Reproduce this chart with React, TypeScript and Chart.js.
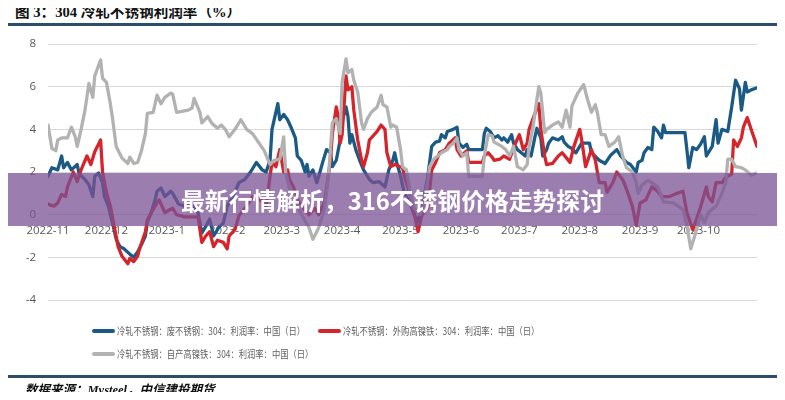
import React, { useEffect, useRef } from "react";
import { Chart, registerables } from "chart.js";

Chart.register(...registerables);

// x values are day offsets from 2022-11-01
const monthStarts = [0, 30, 61, 92, 120, 151, 181, 212, 242, 273, 304, 334];
const monthLabels = [
  "2022-11", "2022-12", "2023-1", "2023-2", "2023-3", "2023-4",
  "2023-5", "2023-6", "2023-7", "2023-8", "2023-9", "2023-10",
];

const seriesNames = [
  "冷轧不锈钢：废不锈钢：304：利润率：中国（日）",
  "冷轧不锈钢：外购高镍铁：304：利润率：中国（日）",
  "冷轧不锈钢：自产高镍铁：304：利润率：中国（日）",
];

const scrapPoints: [number, number][] = [
  [0, 1.8], [2, 2.2], [5, 2.1], [7, 2.75], [8, 2.2], [10, 2.45], [12, 2.1], [15, 2.35], [16, 1.9], [19, 1.65],
  [21, 1.4], [23, 0.85], [24, 1.8], [26, 1.95], [28, 1.5], [29, 0.85], [31, 0.4], [33, -0.35], [35, -1.15], [37, -1.5],
  [39, -1.6], [42, -1.85], [44, -2.0], [46, -1.75], [48, -1.4], [50, -1.0], [51, -0.35], [53, 0.1], [55, 0.7], [56, 1.1],
  [58, 1.25], [60, 0.85], [63, 1.1], [64, 1.0], [67, 0.5], [70, 0.4], [74, 0.5], [77, 0.1], [79, -0.85], [81, -0.55],
  [83, -0.2], [85, -1.0], [87, -0.7], [88, -0.55], [90, -0.4], [92, 0.4], [95, 0.85], [98, 1.5], [101, 1.65], [104, 2.0],
  [107, 2.45], [110, 2.1], [112, 2.0], [114, 2.55], [115, 4.0], [118, 5.2], [119, 4.45], [121, 4.7], [123, 4.45], [125, 4.05],
  [127, 3.6], [128, 2.75], [130, 2.55], [132, 2.0], [133, 2.35], [134, 1.8], [136, 2.1], [138, 1.5], [139, 1.8], [141, 2.45],
  [143, 3.05], [145, 2.9], [146, 2.25], [148, 2.55], [150, 3.5], [151, 4.35], [153, 5.05], [154, 4.6], [155, 3.35], [156, 3.75],
  [158, 3.05], [160, 2.55], [162, 2.1], [164, 1.8], [165, 1.65], [167, 1.5], [170, 1.55], [173, 1.3], [175, 2.1], [177, 2.55],
  [178, 2.9], [179, 2.45], [181, 1.8], [183, 1.0], [186, 0.5], [188, 0.0], [190, -0.3], [192, 0.3], [195, 1.8], [197, 3.2],
  [199, 3.4], [201, 3.45], [202, 3.75], [204, 3.6], [205, 3.9], [208, 4.0], [210, 4.1], [211, 3.35], [213, 3.15], [215, 3.3],
  [216, 3.05], [223, 3.05], [224, 3.8], [225, 4.05], [227, 3.9], [229, 3.6], [231, 3.7], [233, 3.5], [234, 3.6], [236, 3.4],
  [238, 3.75], [239, 3.35], [241, 3.05], [243, 2.9], [245, 2.75], [246, 3.05], [248, 2.75], [250, 3.65], [251, 4.05], [253, 3.6],
  [254, 2.75], [256, 3.05], [257, 3.35], [259, 3.6], [262, 3.5], [264, 3.65], [265, 3.4], [267, 3.2], [269, 3.1], [271, 2.9],
  [274, 3.35], [278, 3.35], [279, 2.9], [283, 2.55], [286, 2.4], [289, 2.8], [292, 3.05], [294, 2.75], [297, 2.45], [299, 2.35],
  [302, 2.0], [303, 2.45], [305, 2.55], [306, 2.9], [308, 3.15], [310, 3.05], [311, 4.1], [313, 3.9], [315, 3.6], [316, 4.2],
  [317, 3.85], [327, 3.85], [328, 3.05], [329, 2.2], [331, 3.15], [333, 3.05], [335, 3.3], [337, 3.65], [338, 2.75], [341, 3.2],
  [343, 4.45], [344, 3.35], [346, 4.0], [349, 3.9], [351, 5.05], [353, 6.3], [355, 5.9], [356, 4.9], [358, 6.2], [359, 5.75],
  [361, 5.85], [364, 5.95],
];

const boughtNpiPoints: [number, number][] = [
  [0, 0.5], [3, 0.4], [5, 0.55], [7, 0.95], [9, 0.85], [10, 1.3], [13, 2.0], [15, 1.55], [17, 2.1], [20, 2.75],
  [22, 2.35], [24, 2.95], [27, 3.5], [28, 2.0], [30, 1.05], [32, 0.4], [34, -0.55], [36, -1.5], [38, -1.95], [41, -2.3],
  [42, -2.05], [44, -2.2], [46, -1.95], [47, -1.6], [50, -0.8], [51, -0.25], [53, 0.1], [55, 0.4], [57, 0.7], [60, 0.1],
  [64, 0.3], [66, 0.0], [70, -0.1], [77, -0.1], [79, -1.3], [81, -1.0], [83, -0.8], [85, -1.5], [87, -1.2], [90, -1.3],
  [92, -1.6], [93, -1.0], [96, -0.7], [98, -0.05], [102, 0.4], [105, 0.85], [109, 0.7], [112, 0.4], [114, 1.8], [115, 2.45],
  [117, 2.25], [119, 3.05], [121, 2.0], [123, 2.1], [124, 1.65], [126, 1.3], [128, 0.7], [131, 0.3], [134, 0.0], [137, 0.3],
  [139, 0.0], [142, 0.6], [145, 2.55], [146, 3.8], [148, 5.05], [149, 4.6], [150, 3.35], [151, 3.75], [153, 6.5], [154, 5.85],
  [156, 6.0], [157, 4.9], [159, 3.5], [161, 2.55], [162, 2.25], [164, 2.9], [165, 3.5], [169, 3.9], [171, 4.2], [173, 4.0],
  [174, 2.9], [176, 2.25], [178, 2.35], [182, 2.2], [183, 1.8], [186, 0.9], [190, -0.8], [192, 0.0], [195, 0.3], [197, 2.1],
  [199, 2.45], [201, 2.9], [204, 3.05], [206, 3.35], [209, 3.6], [210, 3.05], [212, 2.75], [215, 3.0], [216, 2.45], [223, 2.45],
  [224, 2.75], [226, 2.9], [228, 2.7], [229, 2.55], [232, 2.6], [234, 2.75], [237, 2.6], [239, 3.15], [242, 3.75], [244, 3.05],
  [246, 3.35], [247, 4.0], [250, 4.75], [252, 5.2], [253, 4.0], [255, 2.75], [256, 2.35], [259, 2.4], [262, 2.75], [264, 2.9],
  [268, 2.45], [270, 3.2], [273, 4.0], [274, 3.5], [276, 2.25], [279, 3.05], [281, 2.55], [283, 1.5], [286, 1.5], [287, 1.05],
  [290, 1.5], [292, 2.0], [295, 1.65], [297, 1.2], [300, 0.4], [302, -0.5], [304, 0.55], [307, 0.7], [310, 1.3], [313, 1.1],
  [315, 0.85], [319, 0.85], [323, 1.0], [326, 1.1], [328, 0.1], [331, -0.7], [333, -0.2], [335, 0.35], [338, 1.3], [339, 0.85],
  [341, 0.6], [343, 1.5], [346, 1.5], [348, 1.75], [351, 1.9], [352, 3.5], [354, 3.2], [356, 3.6], [357, 4.1], [359, 4.55],
  [361, 4.0], [364, 3.2],
];

const ownNpiPoints: [number, number][] = [
  [0, 4.2], [2, 3.1], [4, 3.0], [5, 3.5], [7, 3.6], [10, 3.6], [12, 4.1], [14, 3.65], [15, 3.2], [17, 4.0],
  [19, 4.9], [21, 6.15], [23, 5.5], [24, 6.5], [27, 7.25], [28, 6.4], [30, 6.2], [32, 5.2], [33, 4.6], [35, 3.2],
  [38, 2.65], [41, 2.4], [42, 2.7], [44, 2.4], [46, 2.45], [48, 3.0], [50, 3.8], [51, 4.75], [54, 4.8], [56, 5.6],
  [58, 5.2], [60, 5.5], [63, 5.7], [64, 5.65], [66, 4.8], [72, 4.9], [74, 5.0], [75, 5.45], [78, 4.8], [79, 4.3],
  [82, 4.6], [84, 4.3], [87, 4.05], [89, 4.2], [91, 4.0], [93, 3.65], [96, 4.0], [99, 4.45], [102, 4.0], [105, 3.8],
  [108, 3.4], [111, 3.0], [114, 2.35], [116, 2.55], [119, 2.6], [121, 3.65], [122, 2.0], [124, 1.2], [127, 0.8], [129, 0.2],
  [132, -0.3], [134, -0.6], [136, -1.15], [138, -0.8], [139, -0.6], [142, 0.3], [144, 1.8], [146, 4.3], [148, 4.5], [150, 3.8],
  [151, 6.2], [153, 7.3], [154, 6.65], [156, 6.8], [157, 6.3], [159, 5.75], [161, 4.3], [162, 4.0], [164, 4.5], [166, 4.8],
  [169, 5.05], [171, 5.6], [172, 5.15], [174, 5.05], [176, 4.1], [177, 4.2], [179, 4.1], [181, 3.05], [182, 2.25], [184, 2.1],
  [186, 1.0], [188, 0.3], [191, 0.0], [193, 0.5], [196, 2.25], [198, 2.6], [202, 2.9], [205, 3.05], [206, 3.2], [208, 3.35],
  [210, 3.6], [211, 3.05], [213, 2.75], [215, 2.9], [216, 1.8], [223, 1.8], [224, 2.75], [226, 3.75], [228, 3.7], [229, 3.4],
  [233, 3.2], [235, 3.05], [237, 2.75], [239, 3.2], [241, 2.25], [244, 2.1], [246, 2.35], [247, 3.2], [249, 4.1], [251, 5.4],
  [252, 6.0], [253, 5.7], [255, 3.85], [256, 4.0], [259, 4.2], [262, 4.35], [264, 4.1], [266, 4.9], [268, 4.1], [269, 5.1],
  [272, 5.7], [275, 6.1], [277, 5.4], [279, 4.8], [281, 5.15], [282, 4.8], [284, 3.75], [286, 3.75], [288, 3.2], [291, 3.4],
  [293, 3.65], [295, 2.75], [297, 2.2], [300, 2.0], [302, 1.5], [303, 1.0], [305, 1.4], [308, 1.6], [310, 1.5], [313, 1.3],
  [316, 0.6], [321, 0.55], [326, 0.25], [328, -0.5], [330, -1.6], [332, -1.0], [335, 0.0], [337, -0.35], [339, 0.1], [343, 0.4],
  [346, 1.0], [348, 1.5], [349, 2.6], [351, 2.6], [353, 2.25], [356, 2.2], [358, 2.1], [361, 1.85], [364, 1.95],
];

const seriesColors = ["#1c5a86", "#d4252d", "#b2b2b2"];

const toXY = (pts: [number, number][]) => pts.map(([x, y]) => ({ x, y }));

const TICK_FONT = '"Open Sans", "Noto Sans", sans-serif';
const CJK_SANS = '"Noto Sans CJK SC", "Noto Sans", sans-serif';
const SERIF_CJK = '"Liberation Serif", "Noto Sans CJK SC", serif';

function LegendItem({ left, top, color, text }: { left: number; top: number; color: string; text: string }) {
  return (
    <>
      <div
        style={{
          position: "absolute",
          left,
          top: top - 2,
          width: 23,
          height: 4,
          borderRadius: 2,
          background: color,
        }}
      />
      <div
        style={{
          position: "absolute",
          left: left + 25,
          top: top - 7,
          height: 14,
          lineHeight: "14px",
          fontSize: 10,
          fontFamily: CJK_SANS,
          color: "#5f5f5f",
          whiteSpace: "nowrap",
          transform: "scaleX(0.83)",
          transformOrigin: "left center",
        }}
      >
        {text}
      </div>
    </>
  );
}

export default function App() {
  const canvasRef = useRef<HTMLCanvasElement | null>(null);

  useEffect(() => {
    if (!canvasRef.current) return;
    const chart = new Chart(canvasRef.current, {
      type: "line",
      data: {
        datasets: [
          { label: seriesNames[0], data: toXY(scrapPoints), borderColor: seriesColors[0], order: 3 },
          { label: seriesNames[1], data: toXY(boughtNpiPoints), borderColor: seriesColors[1], order: 2 },
          { label: seriesNames[2], data: toXY(ownNpiPoints), borderColor: seriesColors[2], order: 1 },
        ].map((d) => ({
          ...d,
          borderWidth: 3.3,
          pointRadius: 0,
          tension: 0,
          fill: false,
          borderJoinStyle: "round" as const,
          borderCapStyle: "round" as const,
        })),
      },
      options: {
        responsive: false,
        animation: false,
        devicePixelRatio: 1,
        layout: { padding: { left: 0, top: 44, right: 28, bottom: 100 } },
        plugins: { legend: { display: false }, tooltip: { enabled: false }, title: { display: false } },
        scales: {
          x: {
            type: "linear",
            position: { y: 0 } as any,
            min: 0,
            max: 364,
            grid: { display: false, drawTicks: false },
            border: { display: false },
            afterBuildTicks: (scale: any) => {
              scale.ticks = monthStarts.map((v) => ({ value: v }));
            },
            ticks: {
              autoSkip: false,
              maxRotation: 0,
              minRotation: 0,
              padding: 9,
              color: "#595959",
              font: { family: TICK_FONT, size: 11.5 },
              callback: (value: any) => {
                const i = monthStarts.indexOf(Number(value));
                return i >= 0 ? monthLabels[i] : "";
              },
            },
          },
          y: {
            type: "linear",
            min: -4,
            max: 8,
            afterFit: (scale: any) => {
              scale.width = 48;
            },
            grid: { color: "#d9d9d9", lineWidth: 1, drawTicks: false },
            border: { display: false },
            ticks: {
              stepSize: 2,
              padding: 12,
              color: "#595959",
              font: { family: TICK_FONT, size: 11.5 },
            },
          },
        },
      },
    });
    return () => chart.destroy();
  }, []);

  return (
    <div
      style={{
        position: "relative",
        width: 785,
        height: 400,
        margin: -8,
        background: "#ffffff",
        overflow: "hidden",
      }}
    >
      <div
        style={{
          position: "absolute",
          left: 15,
          top: 4,
          lineHeight: "17px",
          fontSize: 14.6,
          fontWeight: "bold",
          fontFamily: SERIF_CJK,
          color: "#111111",
          whiteSpace: "nowrap",
        }}
      >
        图 3：304 冷轧不锈钢利润率（%）
      </div>
      <div style={{ position: "absolute", left: 7, top: 23, width: 776, height: 3, background: "#2a4e6c" }} />
      <canvas
        ref={canvasRef}
        width={785}
        height={400}
        style={{ position: "absolute", left: 0, top: 0, width: 785, height: 400 }}
      />
      <LegendItem left={92} top={331} color={seriesColors[0]} text={seriesNames[0]} />
      <LegendItem left={318} top={331} color={seriesColors[1]} text={seriesNames[1]} />
      <LegendItem left={92} top={354} color={seriesColors[2]} text={seriesNames[2]} />
      <div style={{ position: "absolute", left: 6, top: 375, width: 777, height: 3, background: "#2a4e6c" }} />
      <div
        style={{
          position: "absolute",
          left: 25,
          top: 382,
          lineHeight: "16px",
          fontSize: 12.5,
          fontWeight: "bold",
          fontStyle: "italic",
          fontFamily: SERIF_CJK,
          color: "#111111",
          whiteSpace: "nowrap",
        }}
      >
        数据来源：Mysteel，中信建投期货
      </div>
      <div
        style={{
          position: "absolute",
          left: 0,
          top: 173,
          width: 785,
          height: 53,
          background: "rgba(122, 82, 148, 0.75)",
          color: "#ffffff",
          fontFamily: CJK_SANS,
          fontWeight: "bold",
          fontSize: 23.8,
          lineHeight: "53px",
          textAlign: "center",
          whiteSpace: "nowrap",
        }}
      >
        最新行情解析，316不锈钢价格走势探讨
      </div>
    </div>
  );
}
